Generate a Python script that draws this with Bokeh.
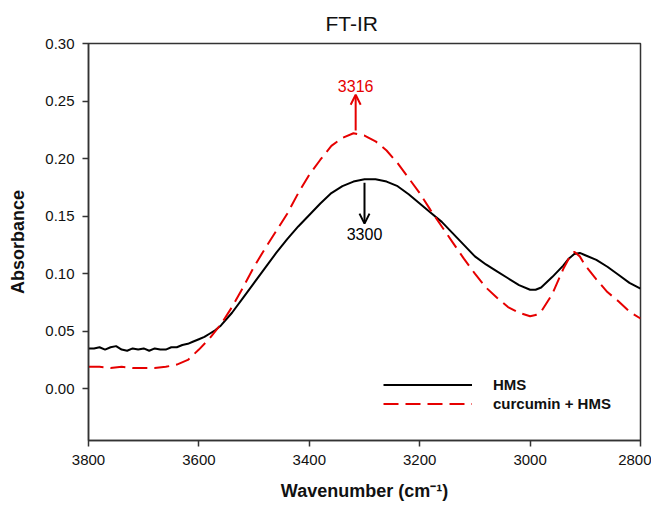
from bokeh.plotting import figure
from bokeh.models import Range1d, FixedTicker, NumeralTickFormatter, Arrow, OpenHead, Label, Legend, LegendItem
from bokeh.embed import file_html
from bokeh.resources import INLINE

# ---- data ----
wn_hms = [3800, 3790, 3780, 3770, 3760, 3750, 3740, 3730, 3720, 3710, 3700, 3690, 3680, 3670,
          3660, 3650, 3640, 3630, 3620, 3610, 3600, 3590, 3580, 3570, 3560, 3540, 3520, 3500,
          3480, 3460, 3440, 3420, 3400, 3380, 3360, 3340, 3320, 3300, 3280, 3260, 3240, 3220,
          3200, 3180, 3160, 3140, 3120, 3100, 3080, 3060, 3040, 3020, 3000, 2990, 2980, 2960,
          2940, 2930, 2920, 2910, 2900, 2880, 2860, 2840, 2820, 2800]
abs_hms = [0.035, 0.035, 0.036, 0.034, 0.036, 0.037, 0.034, 0.033, 0.035, 0.034, 0.035, 0.033, 0.035, 0.034,
           0.034, 0.036, 0.036, 0.038, 0.039, 0.041, 0.043, 0.045, 0.048, 0.051, 0.055, 0.066, 0.079, 0.092,
           0.105, 0.118, 0.130, 0.141, 0.151, 0.161, 0.170, 0.176, 0.180, 0.182, 0.182, 0.180, 0.176, 0.169,
           0.161, 0.153, 0.145, 0.135, 0.125, 0.115, 0.108, 0.102, 0.096, 0.090, 0.086, 0.086, 0.088, 0.097,
           0.107, 0.113, 0.117, 0.118, 0.116, 0.112, 0.106, 0.099, 0.092, 0.087]

wn_cur = [3800, 3780, 3760, 3740, 3720, 3700, 3680, 3660, 3640, 3620, 3600, 3580, 3560, 3540,
          3520, 3500, 3480, 3460, 3440, 3420, 3400, 3380, 3360, 3340, 3320, 3300, 3280, 3260,
          3240, 3220, 3200, 3180, 3160, 3140, 3120, 3100, 3080, 3060, 3040, 3020, 3000, 2990,
          2980, 2960, 2940, 2930, 2920, 2910, 2900, 2880, 2860, 2840, 2820, 2800]
abs_cur = [0.019, 0.019, 0.018, 0.019, 0.018, 0.018, 0.018, 0.019, 0.021, 0.025, 0.034, 0.044, 0.056, 0.071,
           0.088, 0.106, 0.122, 0.137, 0.152, 0.170, 0.186, 0.199, 0.211, 0.218, 0.222, 0.220, 0.215, 0.207,
           0.196, 0.183, 0.170, 0.155, 0.141, 0.127, 0.113, 0.100, 0.088, 0.079, 0.071, 0.066, 0.063, 0.064,
           0.067, 0.082, 0.104, 0.113, 0.119, 0.115, 0.107, 0.095, 0.084, 0.076, 0.067, 0.061]

x_ticks = [3800, 3600, 3400, 3200, 3000, 2800]
y_ticks = [0.00, 0.05, 0.10, 0.15, 0.20, 0.25, 0.30]

series_names = ["HMS", "curcumin + HMS"]
peak_labels = ["3316", "3300"]

FONT = "Liberation Sans"
RED = "#e60000"

p = figure(width=651, height=504, output_backend="svg", toolbar_location=None,
           x_range=Range1d(3800, 2800), y_range=Range1d(-0.045, 0.30),
           min_border_left=88, min_border_right=11, min_border_top=43, min_border_bottom=64)
p.background_fill_color = "white"
p.border_fill_color = "white"
p.grid.visible = False
p.outline_line_color = "#333333"
p.outline_line_width = 1.5

p.title.text = "FT-IR"
p.title.text_font = FONT
p.title.text_font_style = "normal"
p.title.text_font_size = "21px"
p.title.align = "left"
p.title.offset = 237
p.title.standoff = 17
p.title.text_color = "#111111"

for ax in (p.xaxis[0], p.yaxis[0]):
    ax.axis_line_color = "#333333"
    ax.axis_line_width = 1.5
    ax.major_tick_line_color = "#333333"
    ax.major_tick_line_width = 1.5
    ax.major_tick_out = 6
    ax.major_tick_in = 0
    ax.minor_tick_line_color = None
    ax.major_label_text_font = FONT
    ax.major_label_text_font_size = "15px"
    ax.major_label_text_color = "#111111"
    ax.major_label_standoff = 8
    ax.axis_label_text_font = FONT
    ax.axis_label_text_font_style = "bold"
    ax.axis_label_text_font_size = "18px"
    ax.axis_label_text_color = "#111111"

p.xaxis[0].ticker = FixedTicker(ticks=x_ticks)
p.yaxis[0].ticker = FixedTicker(ticks=y_ticks)
p.yaxis[0].formatter = NumeralTickFormatter(format="0.00")
p.xaxis[0].axis_label = "Wavenumber (cm\u207b\u00b9)"
p.yaxis[0].axis_label = "Absorbance"
p.xaxis[0].axis_label_standoff = 13
p.yaxis[0].axis_label_standoff = 14

r1 = p.line(wn_hms, abs_hms, line_color="black", line_width=2)
r2 = p.line(wn_cur, abs_cur, line_color=RED, line_width=2, line_dash="15 7")

legend = Legend(items=[LegendItem(label=series_names[0], renderers=[r1]),
                       LegendItem(label=series_names[1], renderers=[r2])],
                location=(295, 27))
legend.glyph_width = 89
legend.glyph_height = 19
legend.label_height = 19
legend.spacing = 0
legend.padding = 0
legend.margin = 0
legend.label_standoff = 21
legend.border_line_alpha = 0
legend.background_fill_alpha = 0
legend.label_text_font = FONT
legend.label_text_font_style = "bold"
legend.label_text_font_size = "15px"
legend.label_text_color = "#111111"
p.add_layout(legend, "center")

# annotations
p.add_layout(Arrow(end=OpenHead(size=10, line_color=RED, line_width=2),
                   x_start=3316, y_start=0.2243, x_end=3316, y_end=0.2555,
                   line_color=RED, line_width=2))
p.add_layout(Label(x=3316, y=0.2635, text=peak_labels[0], text_align="center", text_baseline="middle",
                   text_color=RED, text_font=FONT, text_font_size="16px"))
p.add_layout(Arrow(end=OpenHead(size=10, line_color="black", line_width=2),
                   x_start=3300, y_start=0.179, x_end=3300, y_end=0.1435,
                   line_color="black", line_width=2))
p.add_layout(Label(x=3300, y=0.1348, text=peak_labels[1], text_align="center", text_baseline="middle",
                   text_color="black", text_font=FONT, text_font_size="16px"))

open("out.html", "w").write(file_html(p, INLINE))
